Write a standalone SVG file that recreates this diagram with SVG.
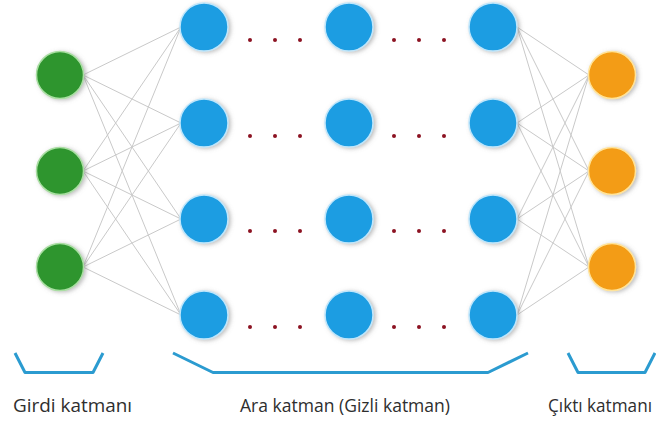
<svg xmlns="http://www.w3.org/2000/svg" width="656" height="423" viewBox="0 0 656 423">
  <defs>
    <filter id="soft" x="-40%" y="-40%" width="180%" height="180%">
      <feDropShadow dx="2" dy="1" stdDeviation="2" flood-color="#7a7a7a" flood-opacity="0.5"/>
    </filter>
  </defs>
  <style>
    .link { stroke: #c9c9c9; stroke-width: 1; fill: none; }
    .node { filter: url(#soft); stroke-width: 1.5; }
    .in   { fill: #2e952f; stroke: #a9dea2; }
    .hid  { fill: #1f9de2; stroke: #bfe6fb; }
    .out  { fill: #f39c12; stroke: #ffe39a; }
    .dot  { fill: #8c1222; }
    .brace { stroke: #2b9bd0; stroke-width: 3; fill: none; stroke-linejoin: round; }
    .label { font-family: "Open Sans", "Noto Sans", sans-serif; font-size: 18px; fill: #2e2e2e; }
  </style>

  <rect width="656" height="423" fill="#ffffff"/>

  <!-- connectors: input layer to first hidden column, last hidden column to output layer -->
  <g id="connectors">
    <line class="link" x1="83" y1="75" x2="181" y2="27"/>
    <line class="link" x1="83" y1="75" x2="181" y2="123"/>
    <line class="link" x1="83" y1="75" x2="181" y2="219"/>
    <line class="link" x1="83" y1="75" x2="181" y2="315"/>
    <line class="link" x1="83" y1="171" x2="181" y2="27"/>
    <line class="link" x1="83" y1="171" x2="181" y2="123"/>
    <line class="link" x1="83" y1="171" x2="181" y2="219"/>
    <line class="link" x1="83" y1="171" x2="181" y2="315"/>
    <line class="link" x1="83" y1="267" x2="181" y2="27"/>
    <line class="link" x1="83" y1="267" x2="181" y2="123"/>
    <line class="link" x1="83" y1="267" x2="181" y2="219"/>
    <line class="link" x1="83" y1="267" x2="181" y2="315"/>

    <line class="link" x1="517" y1="27" x2="589" y2="75"/>
    <line class="link" x1="517" y1="27" x2="589" y2="171"/>
    <line class="link" x1="517" y1="27" x2="589" y2="267"/>
    <line class="link" x1="517" y1="123" x2="589" y2="75"/>
    <line class="link" x1="517" y1="123" x2="589" y2="171"/>
    <line class="link" x1="517" y1="123" x2="589" y2="267"/>
    <line class="link" x1="517" y1="219" x2="589" y2="75"/>
    <line class="link" x1="517" y1="219" x2="589" y2="171"/>
    <line class="link" x1="517" y1="219" x2="589" y2="267"/>
    <line class="link" x1="517" y1="315" x2="589" y2="75"/>
    <line class="link" x1="517" y1="315" x2="589" y2="171"/>
    <line class="link" x1="517" y1="315" x2="589" y2="267"/>
  </g>

  <!-- input layer -->
  <g id="input-1"><circle class="node in" cx="60" cy="75" r="23.5"/></g>
  <g id="input-2"><circle class="node in" cx="60" cy="171" r="23.5"/></g>
  <g id="input-3"><circle class="node in" cx="60" cy="267" r="23.5"/></g>

  <!-- hidden layers -->
  <g id="hidden-1-1"><circle class="node hid" cx="204" cy="27" r="24"/></g>
  <g id="hidden-1-2"><circle class="node hid" cx="204" cy="123" r="24"/></g>
  <g id="hidden-1-3"><circle class="node hid" cx="204" cy="219" r="24"/></g>
  <g id="hidden-1-4"><circle class="node hid" cx="204" cy="315" r="24"/></g>

  <g id="hidden-2-1"><circle class="node hid" cx="349" cy="27" r="24"/></g>
  <g id="hidden-2-2"><circle class="node hid" cx="349" cy="123" r="24"/></g>
  <g id="hidden-2-3"><circle class="node hid" cx="349" cy="219" r="24"/></g>
  <g id="hidden-2-4"><circle class="node hid" cx="349" cy="315" r="24"/></g>

  <g id="hidden-3-1"><circle class="node hid" cx="493" cy="27" r="24"/></g>
  <g id="hidden-3-2"><circle class="node hid" cx="493" cy="123" r="24"/></g>
  <g id="hidden-3-3"><circle class="node hid" cx="493" cy="219" r="24"/></g>
  <g id="hidden-3-4"><circle class="node hid" cx="493" cy="315" r="24"/></g>

  <!-- output layer -->
  <g id="output-1"><circle class="node out" cx="612" cy="75" r="23.5"/></g>
  <g id="output-2"><circle class="node out" cx="612" cy="171" r="23.5"/></g>
  <g id="output-3"><circle class="node out" cx="612" cy="267" r="23.5"/></g>

  <!-- ellipsis dots between hidden columns -->
  <g id="ellipses">
    <circle class="dot" cx="250" cy="40" r="2"/><circle class="dot" cx="275" cy="40" r="2"/><circle class="dot" cx="300" cy="40" r="2"/>
    <circle class="dot" cx="394" cy="40" r="2"/><circle class="dot" cx="419" cy="40" r="2"/><circle class="dot" cx="444" cy="40" r="2"/>
    <circle class="dot" cx="250" cy="136" r="2"/><circle class="dot" cx="275" cy="136" r="2"/><circle class="dot" cx="300" cy="136" r="2"/>
    <circle class="dot" cx="394" cy="136" r="2"/><circle class="dot" cx="419" cy="136" r="2"/><circle class="dot" cx="444" cy="136" r="2"/>
    <circle class="dot" cx="250" cy="231" r="2"/><circle class="dot" cx="275" cy="231" r="2"/><circle class="dot" cx="300" cy="231" r="2"/>
    <circle class="dot" cx="394" cy="231" r="2"/><circle class="dot" cx="419" cy="231" r="2"/><circle class="dot" cx="444" cy="231" r="2"/>
    <circle class="dot" cx="250" cy="327" r="2"/><circle class="dot" cx="275" cy="327" r="2"/><circle class="dot" cx="300" cy="327" r="2"/>
    <circle class="dot" cx="394" cy="327" r="2"/><circle class="dot" cx="419" cy="327" r="2"/><circle class="dot" cx="444" cy="327" r="2"/>
  </g>

  <!-- layer brackets -->
  <g id="brackets">
    <polyline class="brace" points="15,353 25,372.5 93,372.5 103,353"/>
    <polyline class="brace" points="173,353 213,372.5 488,372.5 528,353"/>
    <polyline class="brace" points="568,353 578,372.5 645,372.5 655,353"/>
  </g>

  <!-- layer labels -->
  <g id="labels">
    <text class="label" x="13" y="412" textLength="119" lengthAdjust="spacingAndGlyphs">Girdi katmanı</text>
    <text class="label" x="240" y="412" textLength="210" lengthAdjust="spacingAndGlyphs">Ara katman (Gizli katman)</text>
    <text class="label" x="548" y="412" textLength="104" lengthAdjust="spacingAndGlyphs">Çıktı katmanı</text>
  </g>
</svg>
